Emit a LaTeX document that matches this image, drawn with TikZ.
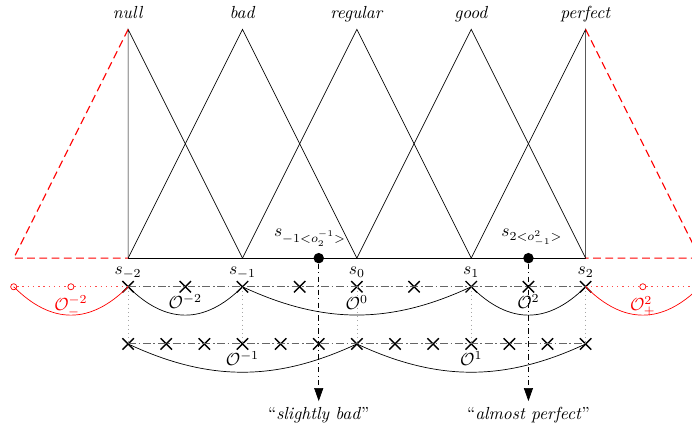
\documentclass[tikz,border=0pt]{standalone}
\usetikzlibrary{shapes.misc,arrows.meta}
\tikzset{
  xmark/.style={cross out,draw,thick,minimum size=5.7pt,inner sep=0pt},
  omark/.style={circle,draw=red,minimum size=3.5pt,inner sep=0pt},
  sdot/.style={circle,fill,minimum size=6pt,inner sep=0pt},
  rowline/.style={black!60,semithick,dash pattern=on 4.5pt off 1.5pt on 1pt off 1.5pt},
  redrow/.style={red!70,semithick,dash pattern=on 0.8pt off 2.2pt},
  reddash/.style={red,semithick,dash pattern=on 4.5pt off 2.5pt},
  vline/.style={gray!70,dotted},
  pointer/.style={dash dot,-{Triangle[length=7.5pt,width=5.2pt]}},
  hump/.style={out=-45,in=-135,looseness=1.2},
  widehump/.style={out=-25,in=-155}
}
\begin{document}
\begin{tikzpicture}[x=2.3cm,y=2.3cm]
  \useasboundingbox (-3.12,-1.487) rectangle (2.93,2.257);
  \clip (-3.12,-1.487) rectangle (2.93,2.257);
  \foreach \i in {-2,...,2} {
      \coordinate (s\i) at (\i,0);
      \coordinate (p\i) at (\i,2);
      \node[below,yshift=-1.5pt] (ls\i) at (s\i) {$s_{\i}$};
  };
  \node[anchor=base,yshift=6pt] (lnull) at (p-2) {\textit{null}};
  \node[anchor=base,yshift=6pt] (lbad) at (p-1) {\textit{bad}};
  \node[anchor=base,yshift=6pt] (lreg) at (p0) {\textit{regular}};
  \node[anchor=base,yshift=6pt] (lgood) at (p1) {\textit{good}};
  \node[anchor=base,yshift=6pt] (lperf) at (p2) {\textit{perfect}};
  \draw (s-1) -- (p-2) -- (s-2);
  \foreach \i/\j/\k in {-2/-1/0,-1/0/1,0/1/2} {
      \draw (s\i) -- (p\j) -- (s\k);
  };
  \draw (s1) -- (p2) -- (s2);
  \draw[semithick] (s-2) -- (s2);
  \coordinate (el) at (-3,0);
  \coordinate (er) at (3,0);
  \draw[reddash] (p-2) -- (el) -- (s-2);
  \draw[reddash] (p2) -- (er) -- (s2);
  \foreach \k in {0,...,8} {
      \node[xmark] (a\k) at (-2+\k/2,-0.25) {};
  };
  \foreach \k in {0,...,12} {
      \node[xmark] (b\k) at (-2+\k/3,-0.75) {};
  };
  \draw[rowline] (a0.center) -- (a8.center);
  \draw[rowline] (b0.center) -- (b12.center);
  \foreach \i/\j in {0/0,2/3,4/6,6/9,8/12} {
      \draw[vline] (a\i.center) -- (b\j.center);
  };
  \draw (a0.center) to[hump] (a2.center);
  \draw (a2.center) to[widehump] (a6.center);
  \draw (a6.center) to[hump] (a8.center);
  \draw (b0.center) to[widehump] (b6.center);
  \draw (b6.center) to[widehump] (b12.center);
  \node at (-1.5,-0.38) (o1) {$\mathcal{O}^{-2}$};
  \node at (0,-0.39) (o2) {$\mathcal{O}^{0}$};
  \node at (1.5,-0.38) (o3) {$\mathcal{O}^{2}$};
  \node at (-1,-0.88) (o4) {$\mathcal{O}^{-1}$};
  \node at (1,-0.88) (o5) {$\mathcal{O}^{1}$};
  \node[omark] (r1) at (-3,-0.25) {};
  \node[omark] (r2) at (-2.5,-0.25) {};
  \node[omark] (r3) at (2.5,-0.25) {};
  \coordinate (rr) at (3,-0.25);
  \draw[redrow] (r1) -- (r2) -- (a0.center);
  \draw[redrow] (a8.center) -- (r3) -- (rr);
  \draw[red] (r1.center) to[hump] (a0.center);
  \draw[red] (a8.center) to[hump] (rr);
  \node[red] at (-2.5,-0.42) (o6) {$\mathcal{O}_-^{-2}$};
  \node[red] at (2.5,-0.42) (o7) {$\mathcal{O}_+^{2}$};
  \node[sdot] (d1) at (-1/3,0) {};
  \node[sdot] (d2) at (1.5,0) {};
  \node[above,xshift=-5pt] (ld1) at (d1.north) {$s_{-1<o_2^{-1}>}$};
  \node[above,xshift=2pt] (ld2) at (d2.north) {$s_{2<o^2_{-1}>}$};
  \node[anchor=north] (q1) at (-1/3,-1.25) {``\textit{slightly bad}''};
  \node[anchor=north] (q2) at (1.5,-1.25) {``\textit{almost perfect}''};
  \draw[pointer] (d1) -- (q1.north);
  \draw[pointer] (d2) -- (q2.north);
\end{tikzpicture}
\end{document}
